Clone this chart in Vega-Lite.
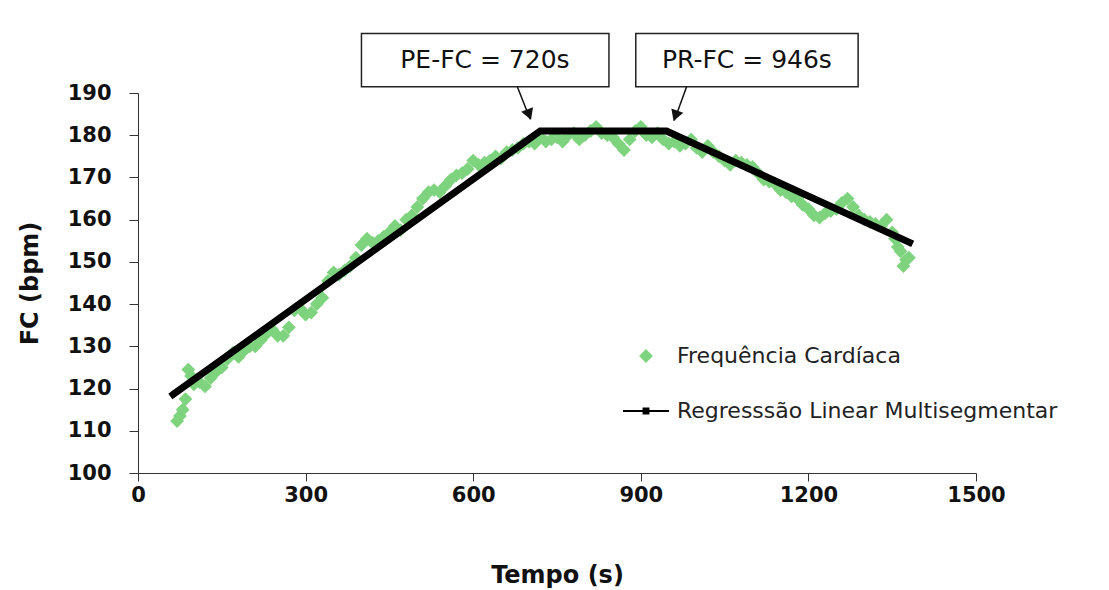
{
  "$schema": "https://vega.github.io/schema/vega-lite/v6.json",
  "width": 838,
  "height": 380,
  "autosize": {"type": "none"},
  "padding": {"left": 138, "top": 93, "right": 133, "bottom": 117},
  "background": "white",
  "config": {"view": {"stroke": null}, "font": "Liberation Sans"},
  "datasets": {
    "hr": [
      {"t":70,"fc":112.3},{"t":75,"fc":113.5},{"t":80,"fc":115},{"t":85,"fc":117.5},{"t":90,"fc":124.5},{"t":95,"fc":123},
      {"t":100,"fc":121},{"t":110,"fc":121.5},{"t":120,"fc":120.5},{"t":130,"fc":122.5},{"t":140,"fc":124},{"t":150,"fc":125},
      {"t":160,"fc":127},{"t":170,"fc":128.5},{"t":180,"fc":127.5},{"t":190,"fc":129},{"t":200,"fc":130},{"t":210,"fc":130},
      {"t":220,"fc":131.5},{"t":230,"fc":133},{"t":240,"fc":134},{"t":250,"fc":132.5},{"t":260,"fc":132.5},{"t":270,"fc":134.5},
      {"t":280,"fc":138.5},{"t":290,"fc":139},{"t":300,"fc":137.5},{"t":310,"fc":138},{"t":320,"fc":140},{"t":330,"fc":141.5},
      {"t":340,"fc":145.5},{"t":350,"fc":147.5},{"t":360,"fc":147},{"t":370,"fc":148},{"t":380,"fc":149},{"t":390,"fc":151},
      {"t":400,"fc":154},{"t":410,"fc":155.5},{"t":420,"fc":154.5},{"t":430,"fc":155},{"t":440,"fc":156},{"t":450,"fc":157},
      {"t":460,"fc":158.5},{"t":470,"fc":157.5},{"t":480,"fc":160},{"t":490,"fc":161},{"t":500,"fc":163},{"t":510,"fc":165},
      {"t":520,"fc":166.5},{"t":530,"fc":167},{"t":540,"fc":166.5},{"t":550,"fc":168},{"t":560,"fc":169.5},{"t":570,"fc":170.5},
      {"t":580,"fc":171},{"t":590,"fc":172},{"t":600,"fc":174},{"t":610,"fc":173},{"t":620,"fc":173.5},{"t":630,"fc":174},
      {"t":640,"fc":175},{"t":650,"fc":174.5},{"t":660,"fc":176},{"t":670,"fc":176.5},{"t":680,"fc":177},{"t":690,"fc":178},
      {"t":700,"fc":178.5},{"t":710,"fc":178},{"t":720,"fc":179.5},{"t":730,"fc":178.5},{"t":740,"fc":179},{"t":750,"fc":179.5},
      {"t":760,"fc":178.5},{"t":770,"fc":180},{"t":780,"fc":180.5},{"t":790,"fc":179},{"t":800,"fc":180},{"t":810,"fc":181},
      {"t":820,"fc":182},{"t":830,"fc":180.5},{"t":840,"fc":180},{"t":850,"fc":179.5},{"t":860,"fc":178},{"t":870,"fc":176.5},
      {"t":880,"fc":179},{"t":890,"fc":181},{"t":900,"fc":182},{"t":910,"fc":180},{"t":920,"fc":179.5},{"t":930,"fc":180.5},
      {"t":940,"fc":179},{"t":950,"fc":178},{"t":960,"fc":178.5},{"t":970,"fc":177.5},{"t":980,"fc":178},{"t":990,"fc":179},
      {"t":1000,"fc":177},{"t":1010,"fc":176},{"t":1020,"fc":177.5},{"t":1030,"fc":176},{"t":1040,"fc":175},{"t":1050,"fc":174},
      {"t":1060,"fc":173},{"t":1070,"fc":174},{"t":1080,"fc":173.5},{"t":1090,"fc":173},{"t":1100,"fc":172.5},{"t":1110,"fc":171},
      {"t":1120,"fc":169.5},{"t":1130,"fc":169},{"t":1140,"fc":168.5},{"t":1150,"fc":167},{"t":1160,"fc":166.5},{"t":1170,"fc":165.5},
      {"t":1180,"fc":165},{"t":1190,"fc":163.5},{"t":1200,"fc":162.5},{"t":1210,"fc":161},{"t":1220,"fc":160.5},{"t":1230,"fc":161.5},
      {"t":1240,"fc":162},{"t":1250,"fc":162.5},{"t":1260,"fc":164},{"t":1270,"fc":165},{"t":1280,"fc":163},{"t":1290,"fc":161},
      {"t":1300,"fc":160},{"t":1310,"fc":159.5},{"t":1320,"fc":159},{"t":1330,"fc":158.5},{"t":1340,"fc":160},{"t":1350,"fc":157},
      {"t":1355,"fc":155.5},{"t":1360,"fc":153.5},{"t":1365,"fc":152.5},{"t":1370,"fc":149},{"t":1375,"fc":150.5},{"t":1380,"fc":151}
    ],
    "reg": [
      {"t":63,"fc":118.6},{"t":720,"fc":181},{"t":946,"fc":181},{"t":1381,"fc":154.6}
    ],
    "boxes": [
      {"label":"PE-FC = 720s","x1":400,"x2":843,"y1":191.5,"y2":204.1,"xc":621,"yc":197.8},
      {"label":"PR-FC = 946s","x1":891,"x2":1289,"y1":191.5,"y2":204.1,"xc":1090,"yc":197.8}
    ],
    "arrows": [
      {"x":679,"y":191.5,"x2":702,"y2":183.8,"hx":700,"hy":184.9,"ang":-21},
      {"x":982,"y":191.5,"x2":960,"y2":183.5,"hx":962,"hy":184.6,"ang":20}
    ]
  },
  "layer": [
    {
      "data": {"name": "hr"},
      "mark": {"type": "point", "filled": true, "opacity": 1, "size": 2116, "strokeWidth": 0},
      "encoding": {
        "x": {"field": "t", "type": "quantitative", "scale": {"domain": [0, 1500], "nice": false},
          "axis": {"values": [0,300,600,900,1200,1500], "format": "d", "grid": false, "title": "Tempo (s)", "titleFont": "DejaVu Sans", "titleFontSize": 24, "titleFontWeight": "bold", "titleColor": "#111", "titlePadding": 58,
            "labelFont": "DejaVu Sans", "labelFontSize": 21, "labelFontWeight": "bold", "labelColor": "#111", "labelPadding": 3, "tickSize": 8, "tickColor": "#333", "domainColor": "#333", "labelFlush": false}},
        "y": {"field": "fc", "type": "quantitative", "scale": {"domain": [100, 190], "nice": false, "zero": false},
          "axis": {"values": [100,110,120,130,140,150,160,170,180,190], "grid": false, "title": "FC (bpm)", "titleFont": "DejaVu Sans", "titleFontSize": 24, "titleFontWeight": "bold", "titleColor": "#111", "titlePadding": 25,
            "labelFont": "DejaVu Sans", "labelFontSize": 21, "labelFontWeight": "bold", "labelColor": "#111", "labelPadding": 18, "tickSize": 9, "tickColor": "#333", "domainColor": "#333"}},
        "color": {"datum": "Frequência Cardíaca", "type": "nominal",
          "scale": {"domain": ["Frequência Cardíaca", "Regresssão Linear Multisegmentar"], "range": ["#7ED37E", "#000000"]},
          "legend": {"orient": "none", "legendX": 485, "legendY": 240, "title": null, "labelFont": "DejaVu Sans", "labelFontSize": 22, "labelColor": "#222", "labelLimit": 0, "labelOffset": 8, "symbolSize": 2116, "rowPadding": 21, "padding": 0, "symbolStrokeWidth": 0}},
        "shape": {"datum": "Frequência Cardíaca", "type": "nominal",
          "scale": {"domain": ["Frequência Cardíaca", "Regresssão Linear Multisegmentar"], "range": ["M0,-0.3L0.3,0L0,0.3L-0.3,0Z", "M-1,-0.045H1V0.045H-1Z M-0.15,-0.15H0.15V0.15H-0.15Z"]},
          "legend": {"orient": "none", "legendX": 485, "legendY": 240, "title": null, "labelFont": "DejaVu Sans", "labelFontSize": 22, "labelColor": "#222", "labelLimit": 0, "labelOffset": 8, "symbolSize": 2116, "rowPadding": 21, "padding": 0, "symbolStrokeWidth": 0}}
      }
    },
    {
      "data": {"name": "reg"},
      "mark": {"type": "line", "color": "#000000", "strokeWidth": 7, "strokeCap": "square", "strokeJoin": "miter"},
      "encoding": {
        "x": {"field": "t", "type": "quantitative"},
        "y": {"field": "fc", "type": "quantitative"}
      }
    },
    {
      "data": {"name": "boxes"},
      "mark": {"type": "rect", "fill": "white", "stroke": "#222", "strokeWidth": 1.5, "clip": false},
      "encoding": {
        "x": {"field": "x1", "type": "quantitative"},
        "x2": {"field": "x2"},
        "y": {"field": "y1", "type": "quantitative"},
        "y2": {"field": "y2"}
      }
    },
    {
      "data": {"name": "boxes"},
      "mark": {"type": "text", "font": "DejaVu Sans", "fontSize": 25, "color": "#111", "align": "center", "baseline": "middle", "clip": false},
      "encoding": {
        "x": {"field": "xc", "type": "quantitative"},
        "y": {"field": "yc", "type": "quantitative"},
        "text": {"field": "label"}
      }
    },
    {
      "data": {"name": "arrows"},
      "mark": {"type": "rule", "color": "#111", "strokeWidth": 1.5, "clip": false},
      "encoding": {
        "x": {"field": "x", "type": "quantitative"},
        "y": {"field": "y", "type": "quantitative"},
        "x2": {"field": "x2"},
        "y2": {"field": "y2"}
      }
    },
    {
      "data": {"name": "arrows"},
      "mark": {"type": "point", "shape": "triangle-down", "filled": true, "color": "#111", "size": 160, "opacity": 1, "clip": false},
      "encoding": {
        "x": {"field": "hx", "type": "quantitative"},
        "y": {"field": "hy", "type": "quantitative"},
        "angle": {"field": "ang", "type": "quantitative", "scale": null}
      }
    }
  ]
}
